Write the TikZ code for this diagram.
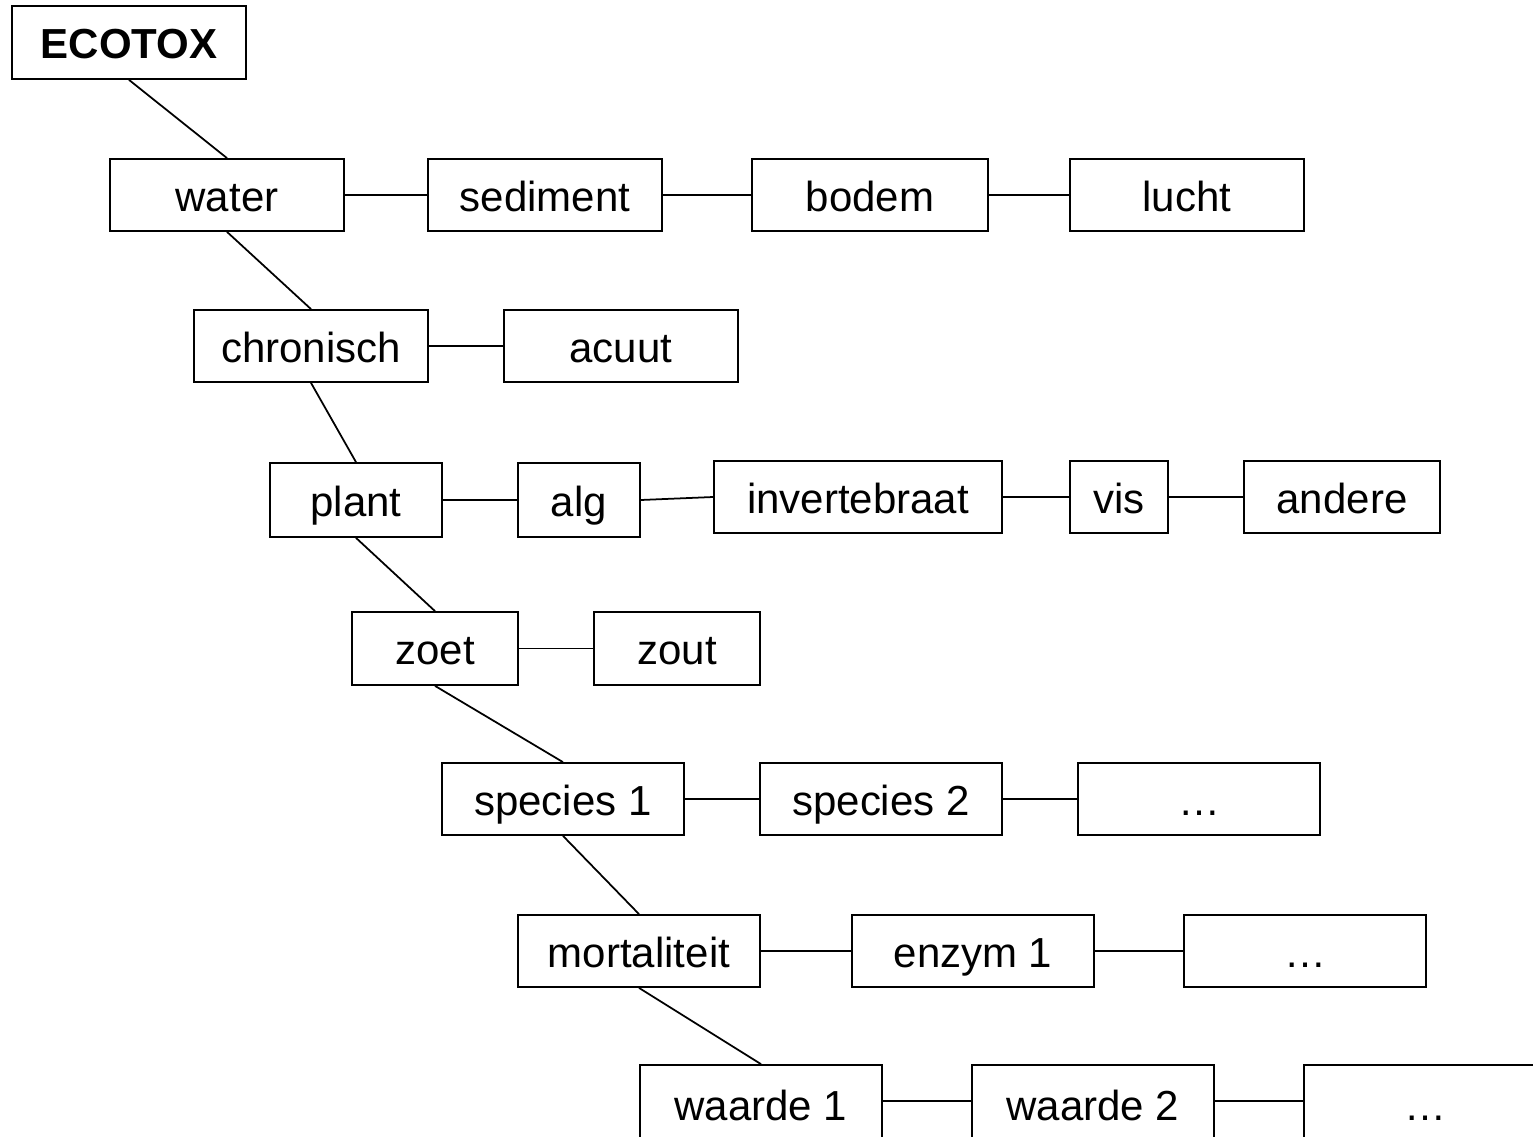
\documentclass[tikz,border=0pt]{standalone}
\usepackage{fontspec}
\setmainfont{Liberation Sans}
\tikzset{
  box/.style={draw, line width=1pt, inner sep=0pt,
    minimum width=4.72cm, minimum height=1.44cm,
    text height=0.64cm, text depth=0cm,
    font=\fontsize{23.9}{28}\selectfont},
  link/.style={line width=1pt}
}
\begin{document}
\begin{tikzpicture}
  \useasboundingbox (0,0) rectangle (30.66,-22.72);
  \node[box, minimum width=4.68cm, minimum height=1.46cm, font=\fontsize{23.9}{28}\selectfont\bfseries]
    (ecotox) at (2.58,-0.85) {ECOTOX};
  \node[box, minimum width=4.68cm] (water) at (4.54,-3.9) {water};
  \node[box, minimum width=4.68cm] (sediment) at (10.9,-3.9) {sediment};
  \node[box] (bodem) at (17.4,-3.9) {bodem};
  \node[box, minimum width=4.68cm] (lucht) at (23.74,-3.9) {lucht};
  \node[box, minimum width=4.68cm] (chronisch) at (6.22,-6.92) {chronisch};
  \node[box, minimum width=4.68cm] (acuut) at (12.42,-6.92) {acuut};
  \node[box, minimum width=3.44cm, minimum height=1.48cm] (plant) at (7.12,-10.0) {plant};
  \node[box, minimum width=2.44cm, minimum height=1.48cm] (alg) at (11.58,-10.0) {alg};
  \node[box, minimum width=5.76cm] (invert) at (17.16,-9.94) {invertebraat};
  \node[box, minimum width=1.96cm] (vis) at (22.38,-9.94) {vis};
  \node[box, minimum width=3.92cm] (andere) at (26.84,-9.94) {andere};
  \node[box, minimum width=3.32cm, minimum height=1.46cm] (zoet) at (8.7,-12.97) {zoet};
  \node[box, minimum width=3.32cm, minimum height=1.46cm] (zout) at (13.54,-12.97) {zout};
  \node[box, minimum width=4.84cm] (species1) at (11.26,-15.98) {species 1};
  \node[box, minimum width=4.84cm] (species2) at (17.62,-15.98) {species 2};
  \node[box, minimum width=4.84cm] (speciesx) at (23.98,-15.98) {…};
  \node[box, minimum width=4.84cm] (mortal) at (12.78,-19.02) {mortaliteit};
  \node[box, minimum width=4.84cm] (enzym1) at (19.46,-19.02) {enzym 1};
  \node[box, minimum width=4.84cm] (enzymx) at (26.1,-19.02) {…};
  \node[box, minimum width=4.84cm, minimum height=1.56cm] (waarde1) at (15.22,-22.08) {waarde 1};
  \node[box, minimum width=4.84cm, minimum height=1.56cm] (waarde2) at (21.86,-22.08) {waarde 2};
  \node[box, minimum width=4.84cm, minimum height=1.56cm] (waardex) at (28.5,-22.08) {…};
  % down the tree
  \draw[link]
    (ecotox.south)
    --
    (water.north);
  \draw[link]
    (water.south)
    --
    (chronisch.north);
  \draw[link]
    (chronisch.south)
    --
    (plant.north);
  \draw[link]
    (plant.south)
    --
    (zoet.north);
  \draw[link]
    (zoet.south)
    --
    (species1.north);
  \draw[link]
    (species1.south)
    --
    (mortal.north);
  \draw[link]
    (mortal.south)
    --
    (waarde1.north);
  % along the rows
  \draw[link]
    (water) -- (sediment) -- (bodem) -- (lucht);
  \draw[link]
    (chronisch) -- (acuut);
  \draw[link]
    (plant) -- (alg);
  \draw[link]
    (alg.east) -- (invert.west);
  \draw[link]
    (invert) -- (vis) -- (andere);
  \draw[link]
    (zoet) -- (zout);
  \draw[link]
    (species1) -- (species2) -- (speciesx);
  \draw[link]
    (mortal) -- (enzym1) -- (enzymx);
  \draw[link]
    (waarde1.east |- 0,-22.02) -- (waarde2.west |- 0,-22.02);
  \draw[link]
    (waarde2.east |- 0,-22.02) -- (waardex.west |- 0,-22.02);
\end{tikzpicture}
\end{document}
